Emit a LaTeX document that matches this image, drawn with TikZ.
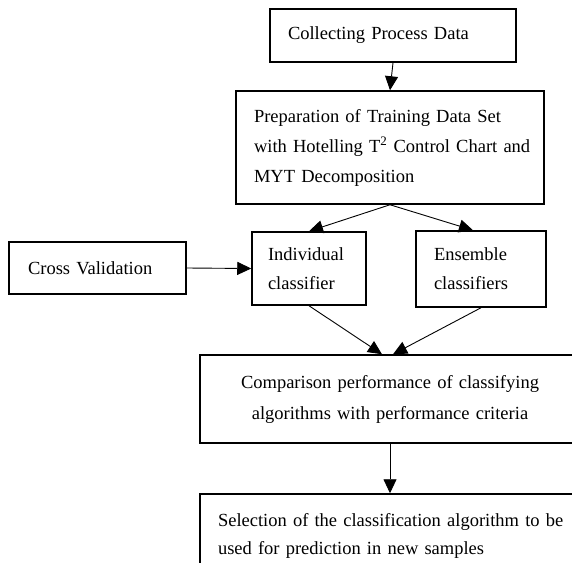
\documentclass[tikz,border=0pt]{standalone}
\usepackage{fontspec}
\setmainfont{Liberation Serif}
\usetikzlibrary{arrows.meta,calc}

\begin{document}
\begin{tikzpicture}[x=1pt,y=-1pt,
  box/.style={draw=black,line width=1.5pt,rectangle,inner ysep=0pt,
    font=\fontsize{18.5}{29}\selectfont},
  flow/.style={line width=0.9pt,-{Triangle[length=14pt,width=13pt]}}]
\useasboundingbox (0,0) rectangle (572,562);
\clip (0,0) rectangle (572,562);

% process boxes
\node[box,minimum width=246pt,minimum height=53pt,inner xsep=18pt,
      text width=210pt,align=left] (collect) at (393,35.5)
  {Collecting Process Data};

\node[box,minimum width=308pt,minimum height=113pt,inner xsep=18pt,
      text width=272pt,align=left,font=\fontsize{18.5}{30}\selectfont] (prep) at (390,147.5)
  {\makebox[272pt][s]{Preparation of Training Data Set}\\
   \makebox[272pt][s]{with Hotelling T\textsuperscript{2} Control Chart and}\\
   MYT Decomposition};

\node[box,minimum width=177pt,minimum height=52pt,inner xsep=19pt,
      text width=139pt,align=left] (cv) at (97.5,268)
  {Cross Validation};

\node[box,minimum width=114pt,minimum height=73pt,inner xsep=16pt,
      text width=82pt,align=left] (ind) at (309,268.5)
  {Individual\\classifier};

\node[box,minimum width=130pt,minimum height=76pt,inner xsep=18pt,
      text width=94pt,align=left] (ens) at (481,269)
  {Ensemble\\classifiers};

\node[box,minimum width=380pt,minimum height=88pt,inner xsep=20pt,
      text width=340pt,align=center,font=\fontsize{18.5}{31}\selectfont] (cmp) at (390,399)
  {Comparison performance of classifying\\algorithms with performance criteria};

\node[box,minimum width=400pt,minimum height=84pt,inner xsep=18pt,
      text width=364pt,align=left,font=\fontsize{18.5}{28}\selectfont] (sel) at (400,536)
  {Selection of the classification algorithm to be\\used for prediction in new samples};

% connectors
\draw[flow] (collect.south) -- (prep.north);
\draw[flow] (prep.south) -- (ind.north);
\draw[flow] (prep.south) -- ($(ens.north)+(-8,0)$);
\draw[flow] (cv.east) -- (ind.west);
\draw[flow] (ind.south) -- ($(cmp.north)+(-8,0)$);
\draw[flow] (ens.south) -- ($(cmp.north)+(3,0)$);
\draw[flow] (cmp.south) -- (cmp.south |- sel.north);
\end{tikzpicture}
\end{document}
